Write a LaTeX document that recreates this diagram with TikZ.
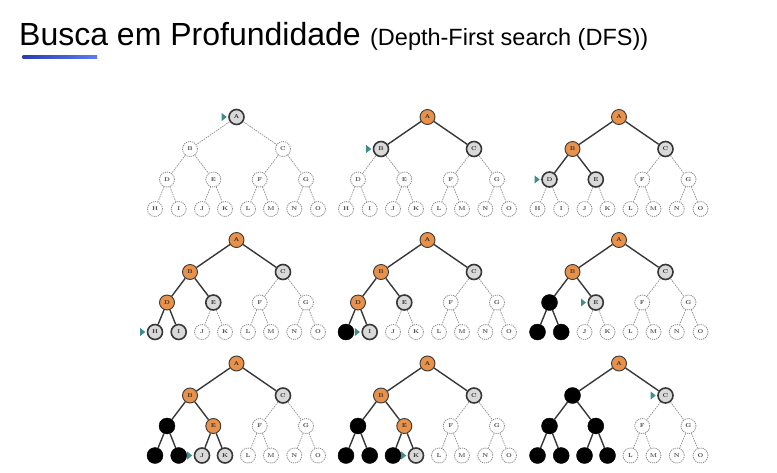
\documentclass[tikz,border=0pt]{standalone}
\usepackage{fontspec}
\newfontfamily\titlefont{Liberation Sans}
\definecolor{orng}{HTML}{E8914A}
\definecolor{curfill}{HTML}{D9D9D9}
\definecolor{edgec}{HTML}{383838}
\definecolor{dgray}{HTML}{8C8C8C}
\definecolor{ltext}{HTML}{444444}
\definecolor{txt}{HTML}{2A2A2A}
\definecolor{tealc}{HTML}{3E8E8E}
\definecolor{blueL}{HTML}{2A3CB0}
\definecolor{blueR}{HTML}{5C7CF0}
\tikzset{
 nbase/.style={circle, minimum size=15pt, inner sep=0pt, font=\bfseries\fontsize{5.6}{5.6}\selectfont},
 unv/.style={nbase, draw=dgray, dash pattern=on 1.2pt off 0.9pt, line width=0.8pt, fill=white, text=ltext},
 cur/.style={nbase, draw=edgec, line width=1.6pt, fill=curfill, text=txt},
 vis/.style={nbase, draw=edgec, line width=0.9pt, fill=orng, text=txt},
 done/.style={nbase, draw=black, fill=black, minimum size=16pt, text=black},
 sedge/.style={draw=edgec, line width=1.4pt},
 dedge/.style={draw=dgray, dash pattern=on 1.5pt off 1pt, line width=0.7pt},
 nA/.style={unv}, nB/.style={unv}, nC/.style={unv}, nD/.style={unv}, nE/.style={unv},
 nF/.style={unv}, nG/.style={unv}, nH/.style={unv}, nI/.style={unv}, nJ/.style={unv},
 nK/.style={unv}, nL/.style={unv}, nM/.style={unv}, nN/.style={unv}, nO/.style={unv},
 eAB/.style={dedge}, eAC/.style={dedge}, eBD/.style={dedge}, eBE/.style={dedge},
 eCF/.style={dedge}, eCG/.style={dedge}, eDH/.style={dedge}, eDI/.style={dedge},
 eEJ/.style={dedge}, eEK/.style={dedge}, eFL/.style={dedge}, eFM/.style={dedge},
 eGN/.style={dedge}, eGO/.style={dedge},
 tmark/.style={fill=tealc}
}
\newcommand\dfstree[5]{%
\begin{scope}[shift={(#2,#3)},#4]
\node[nA] (#1A) at (0,0) {A};
\node[nB] (#1B) at (-46.5,32) {B};
\node[nC] (#1C) at (46.5,32) {C};
\node[nD] (#1D) at (-69.5,62.5) {D};
\node[nE] (#1E) at (-23.2,62.5) {E};
\node[nF] (#1F) at (23.2,62.5) {F};
\node[nG] (#1G) at (69.5,62.5) {G};
\node[nH] (#1H) at (-81.5,92) {H};
\node[nI] (#1I) at (-57.8,92) {I};
\node[nJ] (#1J) at (-34.5,92) {J};
\node[nK] (#1K) at (-11.5,92) {K};
\node[nL] (#1L) at (11.5,92) {L};
\node[nM] (#1M) at (34.5,92) {M};
\node[nN] (#1N) at (57.8,92) {N};
\node[nO] (#1O) at (81.5,92) {O};
\draw[eAB] (#1A) -- (#1B);
\draw[eAC] (#1A) -- (#1C);
\draw[eBD] (#1B) -- (#1D);
\draw[eBE] (#1B) -- (#1E);
\draw[eCF] (#1C) -- (#1F);
\draw[eCG] (#1C) -- (#1G);
\draw[eDH] (#1D) -- (#1H);
\draw[eDI] (#1D) -- (#1I);
\draw[eEJ] (#1E) -- (#1J);
\draw[eEK] (#1E) -- (#1K);
\draw[eFL] (#1F) -- (#1L);
\draw[eFM] (#1F) -- (#1M);
\draw[eGN] (#1G) -- (#1N);
\draw[eGO] (#1G) -- (#1O);
\fill[tmark] ([xshift=-1.5pt]#1#5.west) -- ++(-5,-4) -- ++(0,8) -- cycle;
\end{scope}}
\begin{document}
\begin{tikzpicture}[x=1pt,y=-1pt]
\useasboundingbox (0,0) rectangle (777,472);
\fill[white] (0,0) rectangle (777,472);
\node[anchor=base west, inner sep=0pt] (t1) at (19,45) {\titlefont\fontsize{32}{32}\selectfont Busca em Profundidade};
\node[anchor=base west, inner sep=0pt] (t2) at ([xshift=9pt]t1.base east) {\titlefont\fontsize{23.5}{23.5}\selectfont (Depth-First search (DFS))};
\shade[left color=blueL, right color=blueR] (22.5,55.5) rectangle (97,58);
\dfstree{p1}{236.5}{117}{nA/.style={cur}}{A}
\dfstree{p2}{427.5}{117}{nA/.style={vis}, nB/.style={cur}, nC/.style={cur}, eAB/.style={sedge}, eAC/.style={sedge}}{B}
\dfstree{p3}{619}{117}{nA/.style={vis}, nB/.style={vis}, nC/.style={cur}, nD/.style={cur}, nE/.style={cur}, eAB/.style={sedge}, eAC/.style={sedge}, eBD/.style={sedge}, eBE/.style={sedge}}{D}
\dfstree{p4}{236.5}{240}{nA/.style={vis}, nB/.style={vis}, nD/.style={vis}, nC/.style={cur}, nE/.style={cur}, nH/.style={cur}, nI/.style={cur}, eAB/.style={sedge}, eAC/.style={sedge}, eBD/.style={sedge}, eBE/.style={sedge}, eDH/.style={sedge}, eDI/.style={sedge}}{H}
\dfstree{p5}{427.5}{240}{nA/.style={vis}, nB/.style={vis}, nD/.style={vis}, nC/.style={cur}, nE/.style={cur}, nH/.style={done}, nI/.style={cur}, eAB/.style={sedge}, eAC/.style={sedge}, eBD/.style={sedge}, eBE/.style={sedge}, eDH/.style={sedge}, eDI/.style={sedge}}{I}
\dfstree{p6}{619}{240}{nA/.style={vis}, nB/.style={vis}, nD/.style={done}, nC/.style={cur}, nE/.style={cur}, nH/.style={done}, nI/.style={done}, eAB/.style={sedge}, eAC/.style={sedge}, eBD/.style={sedge}, eBE/.style={sedge}, eDH/.style={sedge}, eDI/.style={sedge}}{E}
\dfstree{p7}{236.5}{363.5}{nA/.style={vis}, nB/.style={vis}, nE/.style={vis}, nD/.style={done}, nH/.style={done}, nI/.style={done}, nC/.style={cur}, nJ/.style={cur}, nK/.style={cur}, eAB/.style={sedge}, eAC/.style={sedge}, eBD/.style={sedge}, eBE/.style={sedge}, eDH/.style={sedge}, eDI/.style={sedge}, eEJ/.style={sedge}, eEK/.style={sedge}}{J}
\dfstree{p8}{427.5}{363.5}{nA/.style={vis}, nB/.style={vis}, nE/.style={vis}, nD/.style={done}, nH/.style={done}, nI/.style={done}, nJ/.style={done}, nC/.style={cur}, nK/.style={cur}, eAB/.style={sedge}, eAC/.style={sedge}, eBD/.style={sedge}, eBE/.style={sedge}, eDH/.style={sedge}, eDI/.style={sedge}, eEJ/.style={sedge}, eEK/.style={sedge}}{K}
\dfstree{p9}{619}{363.5}{nA/.style={vis}, nB/.style={done}, nE/.style={done}, nD/.style={done}, nH/.style={done}, nI/.style={done}, nJ/.style={done}, nK/.style={done}, nC/.style={cur}, eAB/.style={sedge}, eAC/.style={sedge}, eBD/.style={sedge}, eBE/.style={sedge}, eDH/.style={sedge}, eDI/.style={sedge}, eEJ/.style={sedge}, eEK/.style={sedge}}{C}
\end{tikzpicture}
\end{document}
